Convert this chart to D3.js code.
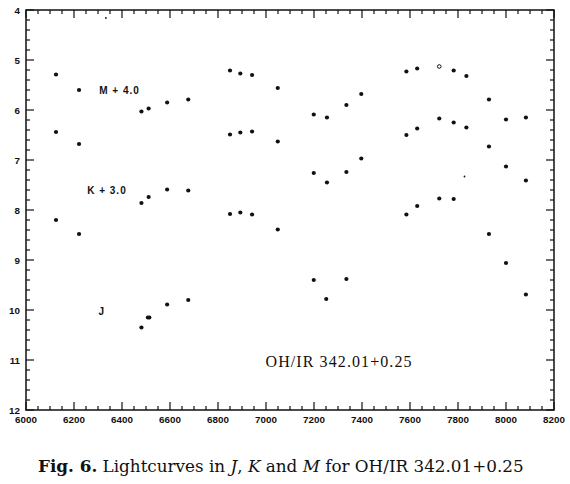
<!DOCTYPE html>
<html>
<head>
<meta charset="utf-8">
<script src="https://cdn.jsdelivr.net/npm/d3@7"></script>
<style>
body { margin: 0; background: #fff; }
svg { display: block; }
.tick-label { font-family: "Liberation Sans", Arial, sans-serif; font-weight: bold; font-size: 9.8px; fill: #111; }
.band-label { font-family: "Liberation Sans", Arial, sans-serif; font-weight: bold; font-size: 10px; fill: #111; letter-spacing: 1px; }
</style>
</head>
<body>
<svg id="chart" width="570" height="484"></svg>
<script>
// JD - 2440000 of the M and K observations
var mkDays = [6125, 6221, 6481, 6511, 6588, 6676, 6850, 6893, 6942, 7049, 7199,
    7254, 7335, 7397, 7585, 7630, 7722, 7782, 7835, 7929, 8000, 8083];
// M + 4.0
var mMag = [5.29, 5.60, 6.03, 5.97, 5.85, 5.79, 5.21, 5.27, 5.30, 5.56, 6.09,
    6.15, 5.90, 5.68, 5.23, 5.17, 5.13, 5.21, 5.32, 5.79, 6.19, 6.15];
// K + 3.0
var kMag = [6.44, 6.68, 7.86, 7.74, 7.59, 7.61, 6.49, 6.45, 6.43, 6.63, 7.26,
    7.45, 7.24, 6.97, 6.50, 6.37, 6.17, 6.25, 6.35, 6.73, 7.13, 7.41];
var jDays = [6125, 6221, 6481, 6508, 6514, 6588, 6676, 6850, 6893, 6942, 7049,
    7199, 7251, 7335, 7585, 7630, 7722, 7782, 7929, 8000, 8083];
var jMag = [8.20, 8.48, 10.35, 10.15, 10.15, 9.89, 9.80, 8.08, 8.05, 8.09, 8.39,
    9.40, 9.78, 9.38, 8.09, 7.92, 7.77, 7.78, 8.48, 9.06, 9.69];
// the one M point drawn as an open circle
var mOpenDays = [7722];
// small specks on the plate
var speckDays = [6333, 7827];
var speckMag = [4.16, 7.33];

var xTicks = [6000, 6200, 6400, 6600, 6800, 7000, 7200, 7400, 7600, 7800, 8000, 8200];
var yTicks = [4, 5, 6, 7, 8, 9, 10, 11, 12];

function drawChart() {
    var svg = d3.select("#chart");
    var pLeft = 26, pTop = 10, pRight = 554, pBottom = 410;

    var x = d3.scaleLinear().domain([6000, 8200]).range([pLeft, pRight]);
    var y = d3.scaleLinear().domain([4, 12]).range([pTop, pBottom]);

    var g = svg.append("g");

    // inward ticks on all four sides
    var minorX = d3.range(6000, 8201, 50);
    var minorY = d3.range(4, 12.001, 0.2);
    function isMajorX(d) { return d % 200 === 0; }
    function isMajorY(d) { return Math.abs(d - Math.round(d)) < 1e-6; }

    var ticks = g.append("g").attr("stroke", "#111").attr("stroke-width", 1.2);
    minorX.forEach(function (d) {
        var len = isMajorX(d) ? 8 : 4;
        ticks.append("line").attr("x1", x(d)).attr("x2", x(d))
            .attr("y1", pBottom).attr("y2", pBottom - len);
        ticks.append("line").attr("x1", x(d)).attr("x2", x(d))
            .attr("y1", pTop).attr("y2", pTop + len);
    });
    minorY.forEach(function (d) {
        var len = isMajorY(d) ? 8 : 4;
        ticks.append("line").attr("x1", pLeft).attr("x2", pLeft + len)
            .attr("y1", y(d)).attr("y2", y(d));
        ticks.append("line").attr("x1", pRight).attr("x2", pRight - len)
            .attr("y1", y(d)).attr("y2", y(d));
    });

    g.append("rect").attr("x", pLeft).attr("y", pTop)
        .attr("width", pRight - pLeft).attr("height", pBottom - pTop)
        .attr("fill", "none").attr("stroke", "#111").attr("stroke-width", 1.5);

    g.selectAll(".xl").data(xTicks).enter().append("text")
        .attr("class", "tick-label")
        .attr("x", function (d) { return x(d); })
        .attr("y", pBottom + 13)
        .attr("text-anchor", "middle")
        .text(function (d) { return d; });

    g.selectAll(".yl").data(yTicks).enter().append("text")
        .attr("class", "tick-label")
        .attr("x", pLeft - 6)
        .attr("y", function (d) { return y(d) + 3.5; })
        .attr("text-anchor", "end")
        .text(function (d) { return d; });

    // data points
    var dots = g.append("g");
    function plot(days, mags, r) {
        days.forEach(function (d, i) {
            dots.append("circle").attr("cx", x(d)).attr("cy", y(mags[i])).attr("r", r)
                .attr("fill", "#111");
        });
    }
    mkDays.forEach(function (d, i) {
        var open = mOpenDays.indexOf(d) >= 0;
        dots.append("circle").attr("cx", x(d)).attr("cy", y(mMag[i]))
            .attr("r", open ? 1.8 : 2.1)
            .attr("fill", open ? "#fff" : "#111")
            .attr("stroke", open ? "#111" : "none")
            .attr("stroke-width", 1);
    });
    plot(mkDays, kMag, 2.1);
    plot(jDays, jMag, 2.1);
    plot(speckDays, speckMag, 0.9);

    // band labels
    g.append("text").attr("class", "band-label").attr("x", x(6305)).attr("y", y(5.6) + 3.5).text("M + 4.0");
    g.append("text").attr("class", "band-label").attr("x", x(6255)).attr("y", y(7.6) + 3.5).text("K + 3.0");
    g.append("text").attr("class", "band-label").attr("x", x(6302)).attr("y", y(10.02) + 3.5).text("J");

    g.append("text").attr("x", x(6998)).attr("y", y(11.14))
        .attr("textLength", 146).attr("lengthAdjust", "spacing")
        .style("font-family", "Liberation Serif, Times New Roman, serif")
        .style("font-size", "16px").attr("fill", "#111")
        .text("OH/IR 342.01+0.25");

    // caption
    var cap = svg.append("text").attr("x", 38).attr("y", 472)
        .style("font-family", "DejaVu Serif, serif")
        .style("font-size", "16.8px").attr("fill", "#111");
    cap.append("tspan").style("font-weight", "bold").text("Fig. 6.");
    cap.append("tspan").text(" Lightcurves in ");
    cap.append("tspan").style("font-style", "italic").text("J");
    cap.append("tspan").text(",  ");
    cap.append("tspan").style("font-style", "italic").text("K");
    cap.append("tspan").text(" and ");
    cap.append("tspan").style("font-style", "italic").text("M");
    cap.append("tspan").text(" for OH/IR 342.01+0.25");
}

drawChart();
</script>
</body>
</html>
